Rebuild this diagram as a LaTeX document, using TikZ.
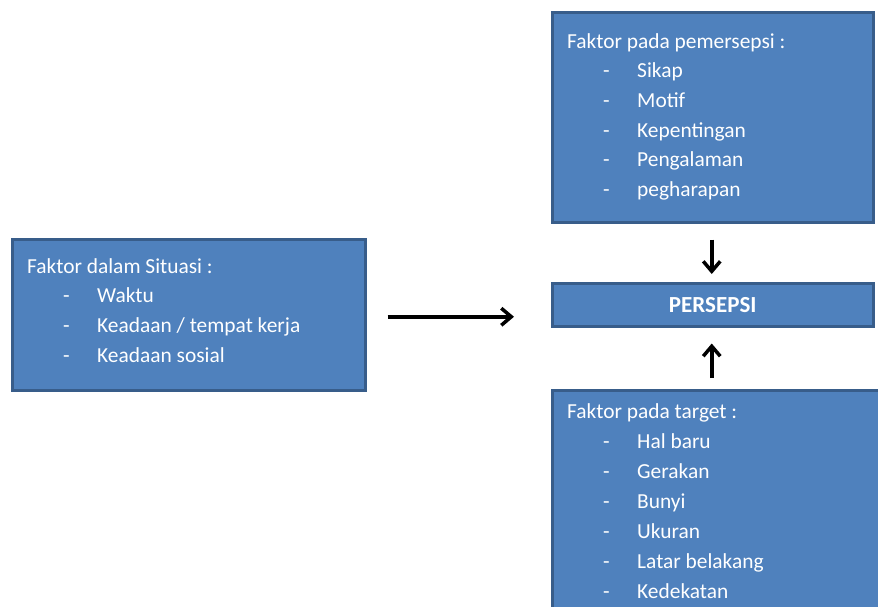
\documentclass[tikz,border=0pt]{standalone}
\usepackage{fontspec}
\setmainfont{Carlito}
\usetikzlibrary{arrows.meta}

\definecolor{boxfill}{HTML}{4F81BD}
\definecolor{boxline}{HTML}{385D8A}

\tikzset{
  box/.style={draw=boxline, fill=boxfill, line width=2.5pt, rectangle, inner sep=0pt, anchor=north west},
  txt/.style={text=white, inner sep=0pt, anchor=base west, font=\fontsize{21.4}{24}\selectfont},
  arr/.style={line width=3.5pt, -{Straight Barb[length=10pt,width=17pt]}}
}

\begin{document}
\begin{tikzpicture}[x=1pt,y=-1pt]

    \clip (0,0) rectangle (878,606);
    \fill[white] (0,0) rectangle (878,606);

    % boxes
    \node[box, minimum width=321, minimum height=210] (pemersepsi) at (551,11) {};
    \node[box, minimum width=353, minimum height=151] (situasi) at (11,238) {};
    \node[box, minimum width=321, minimum height=43, text=white,
          font=\fontsize{23}{26}\selectfont\bfseries] (persepsi) at (551,282) {PERSEPSI};
    \node[box, minimum width=340, minimum height=260] (target) at (551,389) {};

    % faktor pada pemersepsi
    \node[txt] (pem-0) at (567,48) {Faktor pada pemersepsi :};
    \foreach \t [count=\i] in {Sikap,Motif,Kepentingan,Pengalaman,pegharapan} {
      \node[txt] (pem-d\i) at (603,48+29.7*\i) {-};
      \node[txt] (pem-\i) at (637,48+29.7*\i) {\t};
    }

    % faktor dalam situasi
    \node[txt] (sit-0) at (27,273) {Faktor dalam Situasi :};
    \foreach \t [count=\i] in {Waktu,Keadaan / tempat kerja,Keadaan sosial} {
      \node[txt] (sit-d\i) at (63,273+29.7*\i) {-};
      \node[txt] (sit-\i) at (97,273+29.7*\i) {\t};
    }

    % faktor pada target
    \node[txt] (tar-0) at (567,418) {Faktor pada target :};
    \foreach \t [count=\i] in {Hal baru,Gerakan,Bunyi,Ukuran,Latar belakang,Kedekatan} {
      \node[txt] (tar-d\i) at (603,418+30*\i) {-};
      \node[txt] (tar-\i) at (637,418+30*\i) {\t};
    }

    % arrows
    \coordinate (hend) at (situasi.east -| persepsi.west);
    \draw[arr, shorten <=21pt, shorten >=37pt] ([yshift=-2pt]situasi.east) -- ([yshift=-2pt]hend);
    \draw[arr, shorten <=16pt, shorten >=8pt] ([xshift=-1pt]pemersepsi.south) -- ([xshift=-1pt]persepsi.north);
    \draw[arr, shorten <=11pt, shorten >=16pt] ([xshift=-1pt]target.north -| persepsi.south) -- ([xshift=-1pt]persepsi.south);

\end{tikzpicture}
\end{document}
